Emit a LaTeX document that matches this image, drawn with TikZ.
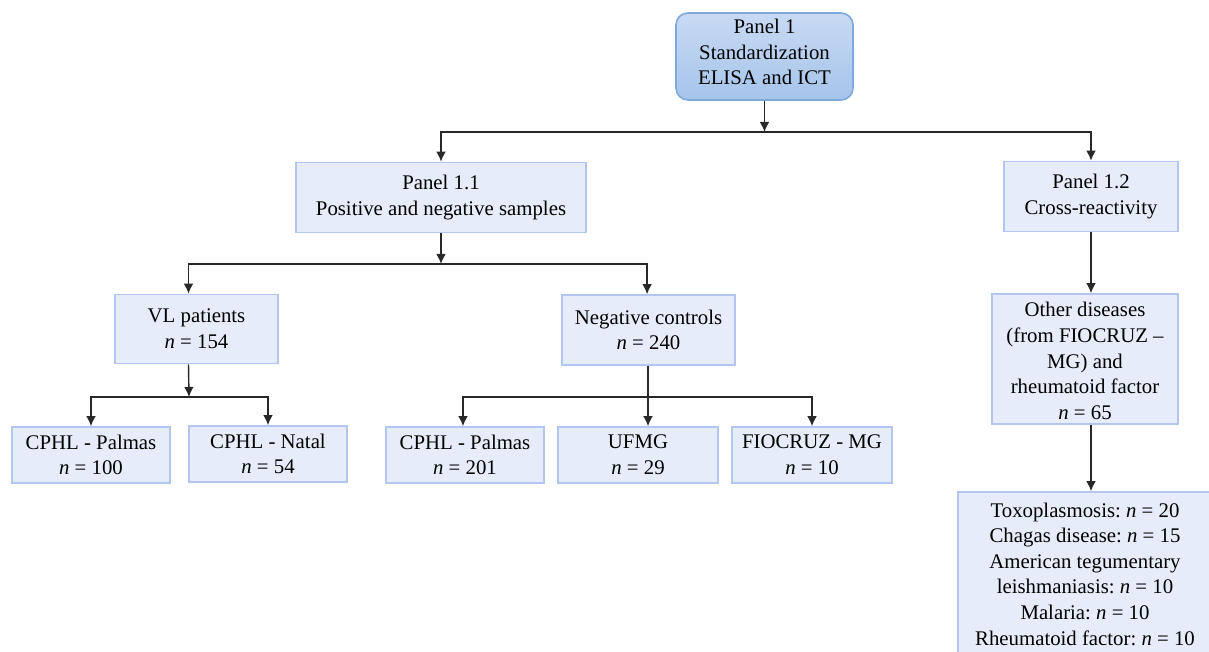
\documentclass[tikz,border=0pt]{standalone}
\usepackage{fontspec}
\setmainfont{Liberation Serif}
\usepackage{tikz}
\usetikzlibrary{arrows.meta}
\frenchspacing

\definecolor{boxfill}{RGB}{230,236,250}
\definecolor{boxline}{RGB}{180,198,240}
\definecolor{topup}{RGB}{200,218,243}
\definecolor{topdown}{RGB}{166,196,235}
\definecolor{topline}{RGB}{127,169,220}
\definecolor{wire}{RGB}{40,40,40}

\newcommand{\nval}[1]{\textit{n} = #1}

\tikzset{
	txt/.style = {align=center, inner sep=0pt, font=\fontsize{10.4pt}{12.8pt}\selectfont},
	box/.style = {txt, draw=boxline, fill=boxfill, line width=0.8pt},
	topbox/.style = {box, draw=topline, top color=topup, bottom color=topdown, rounded corners=6pt},
	arr/.style = {draw=wire, line width=0.7pt, -{Latex[length=5pt,width=4.8pt]}},
	wireline/.style = {draw=wire, line width=0.7pt}
}

\begin{document}
\begin{tikzpicture}[x=0.5pt, y=-0.5pt]
			% Рамка рисунка
			\useasboundingbox (0,0) rectangle (1209,652);
			
			% Верхний блок (текст чуть выше центра)
			\node[topbox, minimum width=88.5pt, minimum height=43.5pt] (p1) at (764.5,56.5) {};
			\node[txt] (p1t) at ([yshift=2.3pt]p1.center) {Panel 1\\Standardization\\ELISA and ICT};
			
			% Второй уровень
			\node[box, minimum width=145pt, minimum height=35pt] (p11) at (441,197.5)
				{Panel 1.1\\Positive and negative samples};
			\node[box, minimum width=87pt, minimum height=35pt] (p12) at (1091,196.5)
				{Panel 1.2\\Cross-reactivity};
			
			% Третий уровень
			\node[box, minimum width=81.5pt, minimum height=34.5pt] (vl) at (196.5,329)
				{VL patients\\\nval{154}};
			\node[box, minimum width=86.5pt, minimum height=35pt] (neg) at (648.5,330)
				{Negative controls\\\nval{240}};
			\node[box, minimum width=93pt, minimum height=65pt] (od) at (1085,359)
				{};
			\node[txt] (odt) at ([yshift=-1pt]od.center)
				{Other diseases\\(from FIOCRUZ --\\MG) and\\rheumatoid factor\\\nval{65}};
			
			% Нижний уровень
			\node[box, minimum width=79pt, minimum height=28pt] (c1) at (91,455)
				{CPHL - Palmas\\\nval{100}};
			\node[box, minimum width=79pt, minimum height=28pt] (c2) at (268,454)
				{CPHL - Natal\\\nval{54}};
			\node[box, minimum width=79pt, minimum height=28pt] (c3) at (465,455)
				{CPHL - Palmas\\\nval{201}};
			\node[box, minimum width=80pt, minimum height=28pt] (c4) at (638,455)
				{UFMG\\\nval{29}};
			\node[box, minimum width=80pt, minimum height=28pt] (c5) at (812,455)
				{FIOCRUZ - MG\\\nval{10}};
			
			% Список болезней (обрезан краем)
			\node[box, minimum width=127pt, minimum height=82pt] (dis) at (1085,574)
				{Toxoplasmosis: \nval{20}\\Chagas disease: \nval{15}\\American tegumentary\\leishmaniasis: \nval{10}\\Malaria: \nval{10}\\Rheumatoid factor: \nval{10}};
			
			% Точки ветвления
			\coordinate (j1) at (764.5,132);
			\coordinate (j2) at (441,264);
			\coordinate (j3) at (189,397);
			\coordinate (j4) at (648,397);
			
			% Стрелки от верхнего блока
			\draw[arr] (p1) -- (j1);
			\draw[arr] (j1) -| (p11.north);
			\draw[arr] (j1) -| (p12.north);
			
			% Стрелки от Panel 1.1
			\draw[arr] (p11) -- (j2);
			\draw[arr] (j2) -| ([xshift=-4pt]vl.north);
			\draw[arr] (j2) -| ([xshift=-0.7pt]neg.north);
			
			% Стрелки от VL patients
			\draw[arr] ([xshift=-4pt]vl.south) -- (j3);
			\draw[arr] (j3) -| (c1.north);
			\draw[arr] (j3) -| (c2.north);
			
			% Стрелки от Negative controls
			\draw[wireline] (j4 |- neg.south) -- (j4);
			\draw[arr] (j4) -| ([xshift=-1pt]c3.north);
			\draw[arr] (j4) -- (j4 |- c4.north);
			\draw[arr] (j4) -| (c5.north);
			
			% Стрелки от Panel 1.2
			\draw[arr] (p12.south) -- (p12 |- od.north);
			\draw[arr] (p12 |- od.south) -- (p12 |- dis.north);
		\end{tikzpicture}
\end{document}
